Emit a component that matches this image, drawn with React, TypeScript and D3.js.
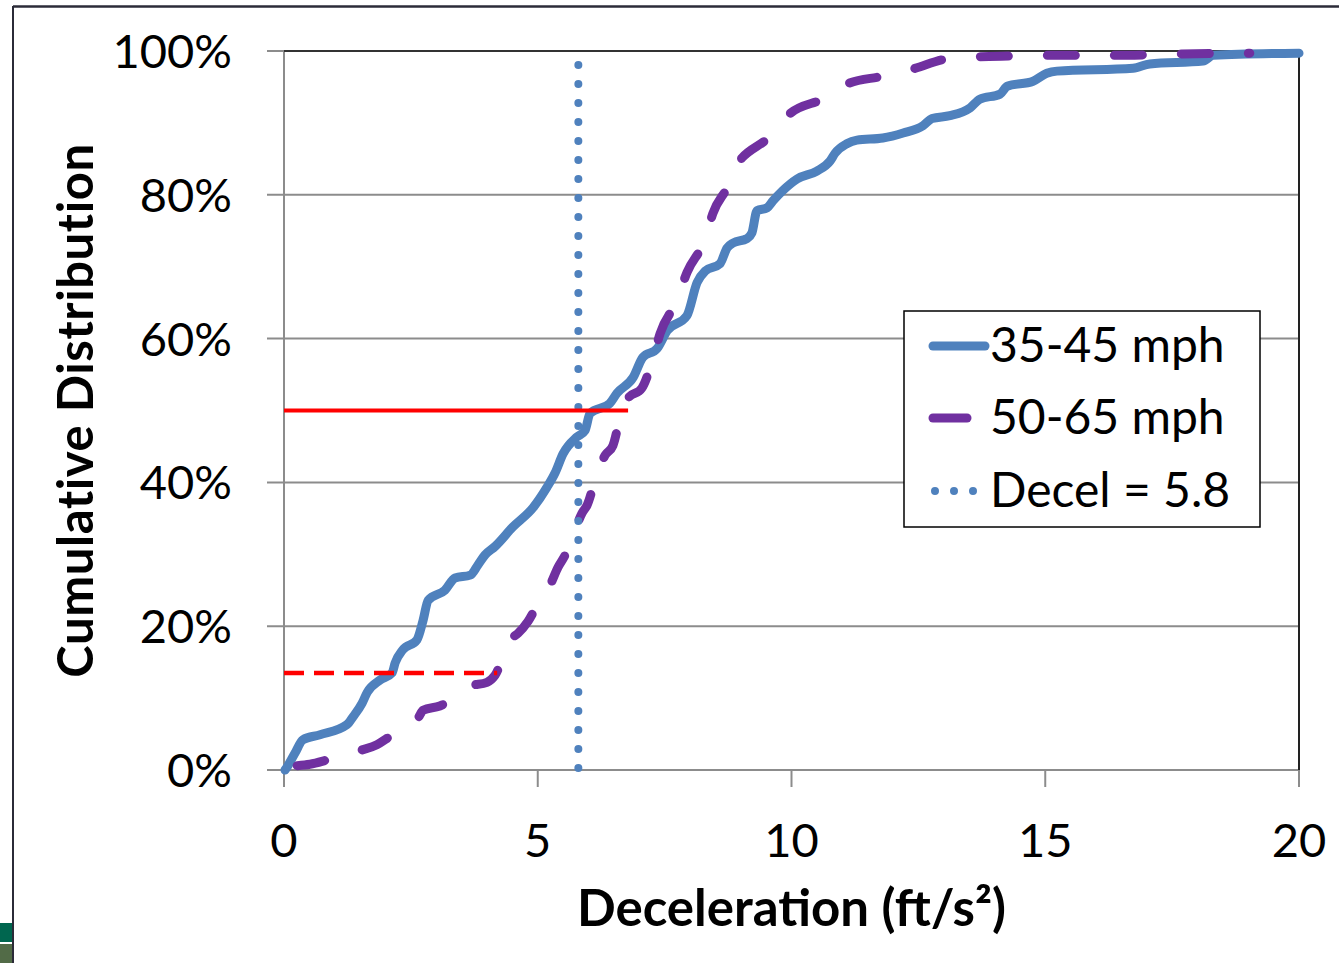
import React from 'react';
import * as d3 from 'd3';

// deceleration (ft/s2) vs cumulative share (%)
const slowX = [0.02, 0.06, 0.22, 0.37, 0.71, 1.24, 1.36, 1.54, 1.64, 1.89, 2.13, 2.19, 2.34, 2.62, 2.74, 2.84, 3.17, 3.37, 3.67, 3.82, 3.96, 4.16, 4.51, 4.91, 5.18, 5.34, 5.5, 5.77, 5.93, 6.03, 6.42, 6.56, 6.88, 7.07, 7.35, 7.55, 7.94, 8.14, 8.3, 8.59, 8.73, 8.85, 9.12, 9.22, 9.32, 9.52, 9.64, 9.83, 10.11, 10.5, 10.76, 10.86, 11.09, 11.29, 11.8, 12.2, 12.59, 12.77, 13.12, 13.52, 13.71, 14.11, 14.25, 14.76, 15.03, 15.23, 16.73, 17.06, 18.11, 18.31, 20];
const slowY = [0, 0.4, 2.4, 4.2, 4.9, 6.3, 7.4, 9.3, 10.8, 12.5, 13.5, 14.9, 16.7, 18.1, 20.8, 23.6, 25, 26.7, 27.1, 28.5, 29.9, 31.1, 33.8, 36.5, 39.3, 41.3, 44, 46.3, 47.2, 49.6, 51, 52.4, 54.6, 57.4, 58.6, 61.1, 63.2, 67.8, 69.4, 70.4, 72.6, 73.3, 73.9, 74.7, 77.8, 78.2, 79.2, 80.6, 82.2, 83.3, 84.7, 85.8, 87.1, 87.6, 87.9, 88.6, 89.6, 90.6, 91, 92.1, 93.3, 94, 95.1, 95.8, 96.9, 97.2, 97.6, 98.2, 98.6, 99.4, 99.7];

const fastX = [0.26, 0.51, 0.85, 1.2, 1.54, 1.83, 2.03, 2.64, 2.74, 3.07, 3.67, 4.0, 4.16, 4.45, 4.61, 4.81, 5.04, 5.24, 5.4, 5.54, 5.73, 5.87, 5.97, 6.19, 6.33, 6.48, 6.66, 6.78, 7.05, 7.27, 7.41, 7.74, 7.94, 8.3, 8.45, 8.79, 8.89, 9.02, 9.62, 9.77, 9.97, 10.62, 10.82, 11.09, 11.8, 12.39, 13.06, 13.67, 14.36, 15.09, 16.37, 17.69, 19.03];
const fastY = [0.6, 0.8, 1.4, 2.1, 2.8, 3.5, 4.4, 7.2, 8.3, 8.9, 11.7, 12.2, 13.2, 18.1, 19, 20.7, 23.6, 25.7, 28.2, 29.9, 33.3, 35.7, 36.8, 41.7, 43.8, 45.1, 50, 51.7, 53.1, 57.2, 60.7, 65.3, 69.2, 73.9, 77.4, 81.9, 84, 85.1, 88.5, 89.9, 91.3, 93.3, 94, 95.4, 96.5, 97.5, 98.9, 99.2, 99.3, 99.4, 99.4, 99.6, 99.7];

const seriesNames = ['35-45 mph', '50-65 mph', 'Decel = 5.8'];
const decelMark = 5.8;
const medianRef = { x: 6.78, y: 50 };
const lowRef = { x: 4.2, y: 13.5 };

const xTicks = [0, 5, 10, 15, 20];
const yTicks = [0, 20, 40, 60, 80, 100];

const BLUE = '#4f81bd';
const PURPLE = '#7030a0';
const RED = '#ff0000';
const GRID = '#8c8c8c';
const FONT = 'Lato, "Open Sans", sans-serif';

const W = 1339;
const H = 963;
const plot = { left: 284, right: 1299, top: 51, bottom: 770 };

export default function App() {
  const x = d3.scaleLinear().domain([0, 20]).range([plot.left, plot.right]);
  const y = d3.scaleLinear().domain([0, 100]).range([plot.bottom, plot.top]);

  const line = d3.line<[number, number]>()
    .x(d => x(d[0]))
    .y(d => y(d[1]))
    .curve(d3.curveMonotoneX);

  const slow = slowX.map((v, i) => [v, slowY[i]] as [number, number]);
  const fast = fastX.map((v, i) => [v, fastY[i]] as [number, number]);

  const legendX = 904;
  const legendY = 311;
  const rowY = [346, 418, 491];

  return (
    <svg width={W} height={H} style={{ position: 'absolute', left: 0, top: 0, background: '#fff' }}>
      {/* slide leftovers */}
      <line x1={13} y1={6.5} x2={W} y2={6.5} stroke="#2b2b38" strokeWidth={2.5} />
      <line x1={13} y1={6} x2={13} y2={H} stroke="#2b2b38" strokeWidth={2} />
      <rect x={0} y={923} width={12} height={19} fill="#00664f" />
      <rect x={0} y={944} width={12} height={19} fill="#526b47" />

      {/* gridlines + ticks */}
      {yTicks.map(t => (
        <line key={'g' + t} x1={plot.left - 17} x2={plot.right} y1={y(t)} y2={y(t)} stroke={GRID} strokeWidth={2} />
      ))}
      {xTicks.map(t => (
        <line key={'xt' + t} x1={x(t)} x2={x(t)} y1={plot.bottom} y2={plot.bottom + 17} stroke={GRID} strokeWidth={2} />
      ))}
      <line x1={plot.left} x2={plot.left} y1={plot.top} y2={plot.bottom} stroke={GRID} strokeWidth={2} />
      <line x1={plot.left} x2={plot.right} y1={plot.top} y2={plot.top} stroke="#333" strokeWidth={2} />
      <line x1={plot.right} x2={plot.right} y1={plot.top} y2={plot.bottom} stroke="#222" strokeWidth={2} />

      {/* tick labels */}
      {yTicks.map(t => (
        <text key={'yl' + t} x={232} y={y(t) + 17} textAnchor="end" fontFamily={FONT} fontSize={47} fill="#000">
          {t + '%'}
        </text>
      ))}
      {xTicks.map(t => (
        <text key={'xl' + t} x={x(t)} y={857} textAnchor="middle" fontFamily={FONT} fontSize={47} fill="#000">
          {t}
        </text>
      ))}

      {/* axis titles */}
      <text x={(plot.left + plot.right) / 2} y={926} textAnchor="middle" fontFamily={FONT} fontWeight="bold" fontSize={51} fill="#000">
        Deceleration (ft/s²)
      </text>
      <text transform={`translate(93,${(plot.top + plot.bottom) / 2}) rotate(-90)`} textAnchor="middle" fontFamily={FONT} fontWeight="bold" fontSize={49} letterSpacing={0.6} fill="#000">
        Cumulative Distribution
      </text>

      {/* series */}
      <path d={line(slow) || ''} fill="none" stroke={BLUE} strokeWidth={9} strokeLinejoin="round" strokeLinecap="round" />
      <path d={line(fast) || ''} fill="none" stroke={PURPLE} strokeWidth={9} strokeLinejoin="round" strokeLinecap="round" strokeDasharray="28,39" />
      <line x1={x(decelMark)} x2={x(decelMark)} y1={plot.bottom - 2} y2={plot.top} stroke={BLUE} strokeWidth={8} strokeLinecap="round" strokeDasharray="0,19" />

      {/* reference lines */}
      <line x1={x(0)} x2={x(medianRef.x)} y1={y(medianRef.y)} y2={y(medianRef.y)} stroke={RED} strokeWidth={4} />
      <line x1={x(0)} x2={x(lowRef.x)} y1={y(lowRef.y)} y2={y(lowRef.y)} stroke={RED} strokeWidth={4.5} strokeDasharray="20,10" />

      {/* legend */}
      <rect x={legendX} y={legendY} width={356} height={216} fill="#fff" stroke="#000" strokeWidth={1.5} />
      <line x1={933} x2={985} y1={rowY[0]} y2={rowY[0]} stroke={BLUE} strokeWidth={9} strokeLinecap="round" />
      <line x1={933} x2={967} y1={rowY[1]} y2={rowY[1]} stroke={PURPLE} strokeWidth={9} strokeLinecap="round" />
      <line x1={935} x2={975} y1={rowY[2]} y2={rowY[2]} stroke={BLUE} strokeWidth={8} strokeLinecap="round" strokeDasharray="0,19" />
      {seriesNames.map((s, i) => (
        <text key={s} x={990} y={rowY[i] + 16} fontFamily={FONT} fontSize={48} fill="#000">
          {s}
        </text>
      ))}
    </svg>
  );
}
